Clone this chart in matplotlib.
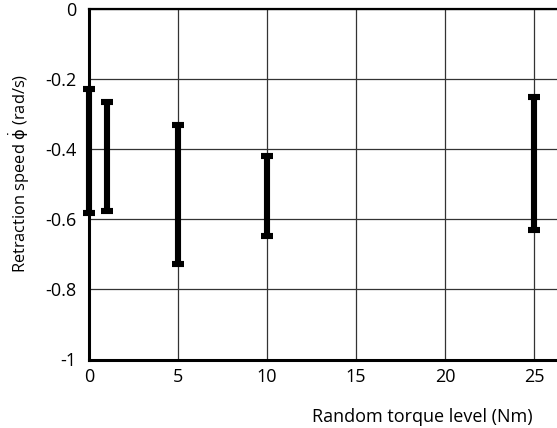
import matplotlib
matplotlib.use("Agg")
import matplotlib.pyplot as plt
import numpy as np

# Retraction speed range (min / max) for each random torque level
torque_levels = [0, 1, 5, 10, 25]
speed_high = [-0.229, -0.266, -0.331, -0.419, -0.250]
speed_low = [-0.583, -0.575, -0.726, -0.647, -0.631]

x_ticks = [0, 5, 10, 15, 20, 25]
y_ticks = [0, -0.2, -0.4, -0.6, -0.8, -1]
y_tick_labels = ["0", "-0.2", "-0.4", "-0.6", "-0.8", "-1"]

plt.rcParams["font.family"] = ["Open Sans", "DejaVu Sans"]
plt.rcParams["mathtext.fontset"] = "custom"
plt.rcParams["mathtext.rm"] = "DejaVu Sans"
plt.rcParams["mathtext.it"] = "DejaVu Sans"

fig = plt.figure(figsize=(5.57, 4.28), dpi=100)
ax = fig.add_axes([89 / 557, 68.5 / 428, 468 / 557, 350.2 / 428])

hi = np.array(speed_high)
lo = np.array(speed_low)
mid = (hi + lo) / 2
half = (hi - lo) / 2
bars = ax.errorbar(torque_levels, mid, yerr=half, fmt="none", ecolor="black",
                   elinewidth=4.4, capsize=4.6, capthick=4.4, zorder=3)
for artist in bars.lines[1] + bars.lines[2]:
    artist.set_clip_on(False)

ax.set_xlim(0, 468 / 17.8)
ax.set_ylim(-1, 0)
ax.set_xticks(x_ticks)
ax.set_yticks(y_ticks)
ax.set_yticklabels(y_tick_labels)
ax.tick_params(axis="both", length=0, labelsize=13)
ax.tick_params(axis="y", pad=9)
ax.tick_params(axis="x", pad=6)

ax.grid(True, color="#333333", linewidth=0.9)
ax.set_axisbelow(True)

for side in ("left", "bottom"):
    ax.spines[side].set_linewidth(2.2)
ax.spines["top"].set_linewidth(1.6)
ax.spines["right"].set_visible(False)

ax.set_ylabel(r"Retraction speed $\dot{\phi}$ (rad/s)", fontsize=11.8)
ax.yaxis.set_label_coords(-0.121, 0.53)
fig.text(422 / 557, 1 - 417 / 428, "Random torque level (Nm)", fontsize=13,
         ha="center", va="center")

fig.savefig("out.png", dpi=100)
